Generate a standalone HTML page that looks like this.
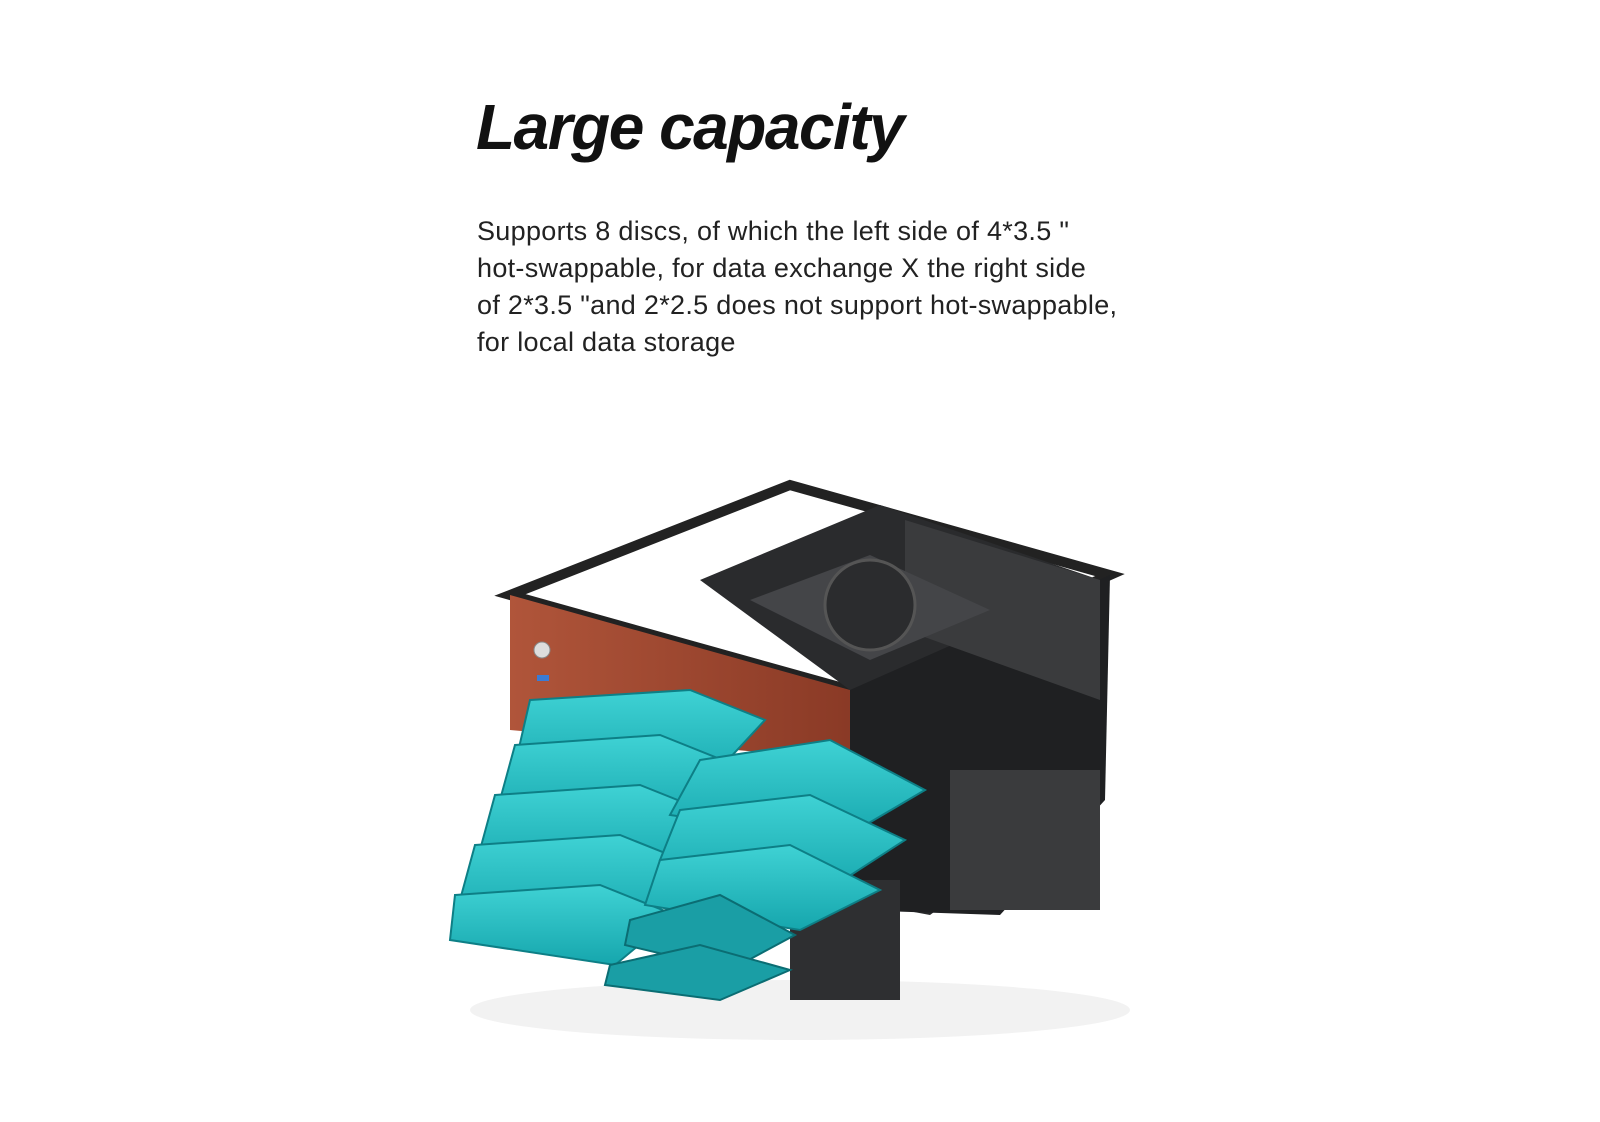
<!DOCTYPE html>
<html><head><meta charset="utf-8"><style>
html,body{margin:0;padding:0;background:#fff;}
body{width:1600px;height:1122px;position:relative;overflow:hidden;font-family:"Liberation Sans",sans-serif;}
h1{position:absolute;left:476px;top:90px;margin:0;font-size:64px;font-weight:bold;font-style:italic;color:#111;letter-spacing:-1.5px;}
p{position:absolute;left:477px;top:213px;margin:0;font-size:27px;line-height:37px;color:#222;letter-spacing:0.3px;}
svg{position:absolute;left:0;top:0;}
</style></head><body>
<h1>Large capacity</h1>
<p>Supports 8 discs, of which the left side of 4*3.5 "<br>hot-swappable, for data exchange X the right side<br>of 2*3.5 "and 2*2.5 does not support hot-swappable,<br>for local data storage</p>
<svg width="1600" height="1122" viewBox="0 0 1600 1122">
<defs>
<linearGradient id="w" x1="0" y1="0" x2="1" y2="0"><stop offset="0" stop-color="#b0553a"/><stop offset="1" stop-color="#8a3a26"/></linearGradient>
<linearGradient id="t" x1="0" y1="0" x2="0" y2="1"><stop offset="0" stop-color="#3fd2d4"/><stop offset="1" stop-color="#16a6ad"/></linearGradient>
</defs>
<ellipse cx="800" cy="1010" rx="330" ry="30" fill="#f2f2f2"/>
<polygon points="510,595 790,485 1110,575 850,690" fill="none" stroke="#222" stroke-width="10"/>
<polygon points="700,580 880,505 1100,580 1100,790 930,915 850,900 850,690" fill="#2a2b2d"/>
<polygon points="850,690 1110,575 1105,800 1000,915 850,910" fill="#1f2022"/>
<polygon points="905,520 1100,580 1100,700 905,630" fill="#3a3b3d"/>
<polygon points="750,600 870,555 990,610 870,660" fill="#444548"/>
<circle cx="870" cy="605" r="45" fill="#2b2c2e" stroke="#555" stroke-width="3"/>
<rect x="950" y="770" width="150" height="140" fill="#3a3b3d"/>
<polygon points="790,880 900,880 900,1000 790,1000" fill="#2e2f31"/>
<polygon points="510,595 850,690 850,760 510,730" fill="url(#w)"/>
<circle cx="542" cy="650" r="8" fill="#ddd" stroke="#888"/>
<rect x="537" y="675" width="12" height="6" fill="#3a7bd5"/>
<g fill="url(#t)" stroke="#0d7f86" stroke-width="2">
<polygon points="530,700 690,690 765,720 700,790 515,765"/>
<polygon points="515,745 660,735 735,765 675,830 500,800"/>
<polygon points="495,795 640,785 715,815 655,880 480,850"/>
<polygon points="475,845 620,835 695,865 635,930 460,900"/>
<polygon points="455,895 600,885 675,915 615,965 450,940"/>
</g>
<g fill="url(#t)" stroke="#0d7f86" stroke-width="2">
<polygon points="700,760 830,740 925,790 840,840 670,815"/>
<polygon points="680,810 810,795 905,840 820,895 660,860"/>
<polygon points="660,860 790,845 880,890 800,930 645,905"/>
</g>
<g fill="#1a9ea5" stroke="#0b6d73" stroke-width="2">
<polygon points="630,920 720,895 795,935 730,970 625,945"/>
<polygon points="610,965 700,945 790,970 720,1000 605,985"/>
</g>
</svg>
</body></html>
